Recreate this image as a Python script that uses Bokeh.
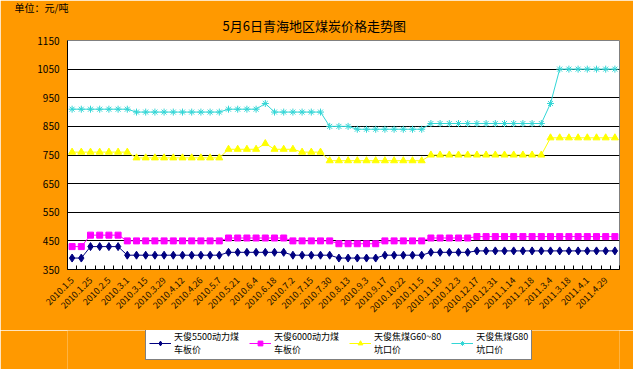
import math
from bokeh.plotting import figure
from bokeh.layouts import column
from bokeh.models import Range1d, FixedTicker, Legend, LegendItem, Title
from bokeh.embed import file_html
from bokeh.resources import INLINE

# ---- data ----
tick_labels = ["2010.1.5", "2010.1.25", "2010.2.5", "2010.3.1", "2010.3.15",
               "2010.3.29", "2010.4.12", "2010.4.26", "2010.5.7", "2010.5.21",
               "2010.6.4", "2010.6.18", "2010.7.2", "2010.7.15", "2010.7.30",
               "2010.8.13", "2010.9.3", "2010.9.17", "2010.10.22", "2010.11.5",
               "2010.11.19", "2010.12.3", "2010.12.17", "2010.12.31", "2011.1.14",
               "2011.2.18", "2011.3.4", "2011.3.18", "2011.4.1", "2011.4.29"]

coal5500 = [390, 390, 430, 430, 430, 430, 400, 400, 400, 400,
            400, 400, 400, 400, 400, 400, 400, 410, 410, 410,
            410, 410, 410, 410, 400, 400, 400, 400, 400, 390,
            390, 390, 390, 390, 400, 400, 400, 400, 400, 410,
            410, 410, 410, 410, 415, 415, 415, 415, 415, 415,
            415, 415, 415, 415, 415, 415, 415, 415, 415, 415]
coal6000 = [430, 430, 470, 470, 470, 470, 450, 450, 450, 450,
            450, 450, 450, 450, 450, 450, 450, 460, 460, 460,
            460, 460, 460, 460, 450, 450, 450, 450, 450, 440,
            440, 440, 440, 440, 450, 450, 450, 450, 450, 460,
            460, 460, 460, 460, 465, 465, 465, 465, 465, 465,
            465, 465, 465, 465, 465, 465, 465, 465, 465, 465]
coking_g60_80 = [760, 760, 760, 760, 760, 760, 760, 740, 740, 740,
                 740, 740, 740, 740, 740, 740, 740, 770, 770, 770,
                 770, 790, 770, 770, 770, 760, 760, 760, 730, 730,
                 730, 730, 730, 730, 730, 730, 730, 730, 730, 750,
                 750, 750, 750, 750, 750, 750, 750, 750, 750, 750,
                 750, 750, 810, 810, 810, 810, 810, 810, 810, 810]
coking_g80 = [910, 910, 910, 910, 910, 910, 910, 900, 900, 900,
              900, 900, 900, 900, 900, 900, 900, 910, 910, 910,
              910, 930, 900, 900, 900, 900, 900, 900, 850, 850,
              850, 840, 840, 840, 840, 840, 840, 840, 840, 860,
              860, 860, 860, 860, 860, 860, 860, 860, 860, 860,
              860, 860, 930, 1050, 1050, 1050, 1050, 1050, 1050, 1050]

series_names = ["天俊5500动力煤\n车板价", "天俊6000动力煤\n车板价",
                "天俊焦煤G60~80\n坑口价", "天俊焦煤G80\n坑口价"]
y_ticks = [350, 450, 550, 650, 750, 850, 950, 1050, 1150]

idx = list(range(len(coal5500)))

FONT = "Noto Sans CJK SC"
ORANGE = "#FF9900"

styles = [
    (coal5500, "#000080", "diamond", 8),
    (coal6000, "#FF00FF", "square", 6),
    (coking_g60_80, "#FFFF00", "triangle", 7),
    (coking_g80, "#33D6D6", "asterisk", 7),
]

# ---------------- main chart ----------------
p = figure(width=633, height=330, output_backend="svg", toolbar_location=None,
           x_range=Range1d(-0.5, len(idx) - 0.5), y_range=Range1d(350, 1150),
           background_fill_color="white", border_fill_color=ORANGE,
           min_border_left=67, min_border_right=14, min_border_top=40,
           min_border_bottom=61)
p.outline_line_color = "#808080"
p.outline_line_width = 1

p.yaxis.ticker = FixedTicker(ticks=y_ticks)
p.yaxis.major_label_text_font = FONT
p.yaxis.major_label_text_font_size = "10px"
p.yaxis.major_label_text_color = "black"
p.yaxis.major_tick_out = 0
p.yaxis.major_tick_in = 0
p.yaxis.minor_tick_out = 0
p.yaxis.minor_tick_in = 0
p.yaxis.axis_line_color = "black"
p.yaxis.major_label_standoff = 8

even_ticks = [2 * i for i in range(len(tick_labels))]
p.xaxis.ticker = FixedTicker(ticks=even_ticks,
                             minor_ticks=[i - 0.5 for i in range(len(idx) + 1)])
p.xaxis.major_label_overrides = {t: lab for t, lab in zip(even_ticks, tick_labels)}
p.xaxis.major_label_orientation = math.pi / 4
p.xaxis.major_label_text_font = FONT
p.xaxis.major_label_text_font_size = "9px"
p.xaxis.major_label_text_color = "#1a1000"
p.xaxis.major_tick_out = 0
p.xaxis.major_tick_in = 0
p.xaxis.minor_tick_out = 0
p.xaxis.minor_tick_in = 4
p.xaxis.minor_tick_line_color = "black"
p.xaxis.axis_line_color = "black"
p.xaxis.major_label_standoff = 9

p.xgrid.grid_line_color = None
p.ygrid.ticker = FixedTicker(ticks=y_ticks)
p.ygrid.grid_line_color = "black"
p.ygrid.grid_line_width = 1

for vals, col, mk, sz in styles:
    p.line(idx, vals, line_color=col, line_width=1)
    p.scatter(idx, vals, marker=mk, size=sz, fill_color=col, line_color=col)

# titles (first added is nearest to the frame)
p.add_layout(Title(text="5月6日青海地区煤炭价格走势图", align="left", offset=155,
                   text_font=FONT, text_font_size="13px", text_font_style="normal",
                   text_color="black", standoff=12), "above")
try:
    unit_title = Title(text="单位：元/吨", align="left", offset=-53,
                       text_font=FONT, text_font_size="10px",
                       text_font_style="normal", text_color="black",
                       standoff=-14)
except Exception:
    unit_title = Title(text="单位：元/吨", align="left", offset=-53,
                       text_font=FONT, text_font_size="10px",
                       text_font_style="normal", text_color="black",
                       standoff=0)
p.add_layout(unit_title, "above")

# ---------------- legend strip ----------------
pl = figure(width=633, height=39, output_backend="svg", toolbar_location=None,
            x_axis_type=None, y_axis_type=None,
            x_range=Range1d(1000, 1001), y_range=Range1d(0, 1),
            min_border=0, background_fill_color=ORANGE,
            border_fill_color=ORANGE, outline_line_color=None)
items = []
for (vals, col, mk, sz), name in zip(styles, series_names):
    r1 = pl.line(idx, vals, line_color=col, line_width=1)
    r2 = pl.scatter(idx, vals, marker=mk, size=sz, fill_color=col, line_color=col)
    items.append(LegendItem(label=name, renderers=[r1, r2]))

legend = Legend(items=items, orientation="horizontal", location=(78, 9),
                label_text_font=FONT, label_text_font_size="9px",
                label_text_color="black", glyph_width=22, glyph_height=12,
                label_standoff=3, spacing=10, padding=3, margin=0,
                border_line_color="black", border_line_width=1,
                background_fill_color="white", background_fill_alpha=1)
pl.add_layout(legend, "center")

layout = column(p, pl, spacing=0)
open("out.html", "w").write(file_html(layout, INLINE))
